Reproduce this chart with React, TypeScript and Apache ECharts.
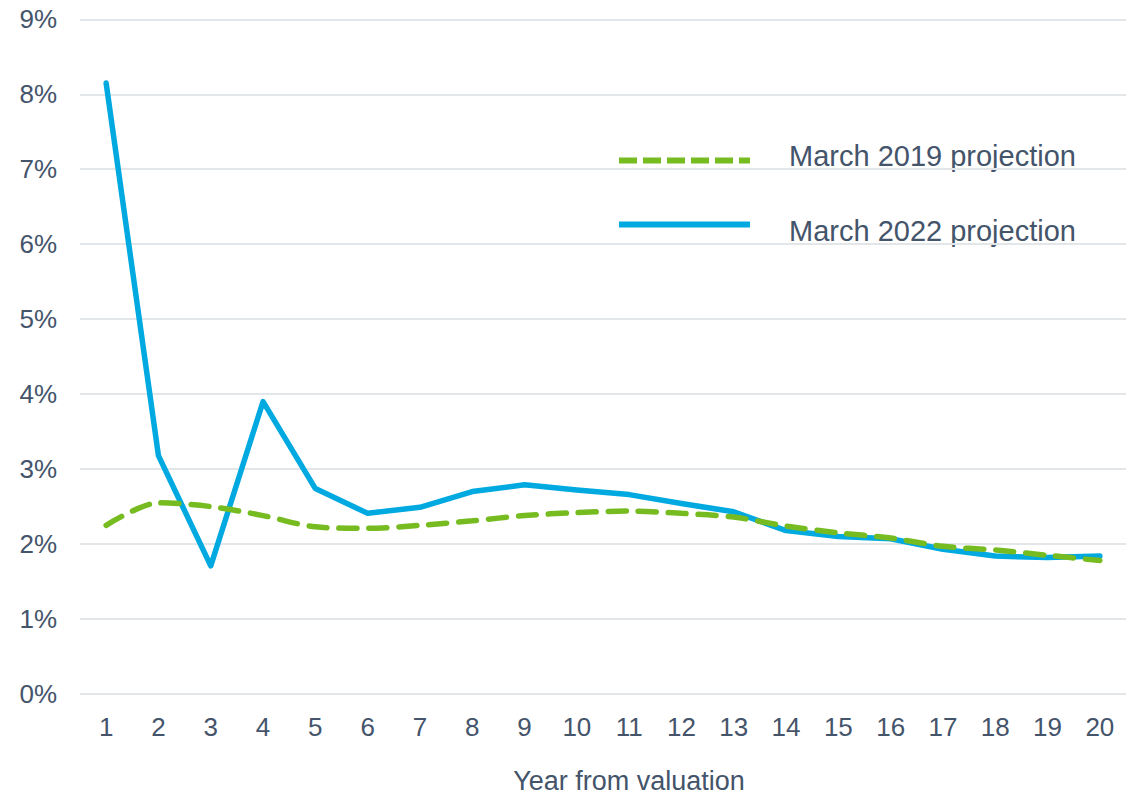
import React, { useEffect, useRef } from "react";
import * as echarts from "echarts";

const years = ["1","2","3","4","5","6","7","8","9","10","11","12","13","14","15","16","17","18","19","20"];
const march2019 = [2.25, 2.55, 2.5, 2.38, 2.23, 2.21, 2.25, 2.31, 2.38, 2.42, 2.44, 2.41, 2.36, 2.24, 2.15, 2.08, 1.97, 1.92, 1.85, 1.78];
const march2022 = [8.15, 3.18, 1.71, 3.9, 2.74, 2.41, 2.49, 2.7, 2.79, 2.72, 2.66, 2.54, 2.43, 2.18, 2.1, 2.07, 1.93, 1.84, 1.82, 1.84];
const seriesNames = ["March 2019 projection", "March 2022 projection"];
const xAxisTitle = "Year from valuation";

const TEXT = "#44546a";
const GREEN = "#76bc21";
const BLUE = "#00a9e0";
const FONT = "Liberation Sans, Arial, sans-serif";

export default function App() {
  const ref = useRef<HTMLDivElement>(null);
  useEffect(() => {
    if (!ref.current) return;
    const chart = echarts.init(ref.current, undefined, { renderer: "svg" });
    chart.setOption({
      animation: false,
      backgroundColor: "#ffffff",
      grid: { left: 80, right: 14, top: 19.3, height: 679 },
      graphic: [
        {
          type: "line",
          shape: { x1: 619, y1: 160.5, x2: 750, y2: 160.5 },
          style: { stroke: GREEN, lineWidth: 6, lineDash: [18, 6] },
        },
        {
          type: "text",
          x: 789,
          y: 156,
          style: { text: seriesNames[0], fill: TEXT, font: "29px " + FONT, verticalAlign: "middle" },
        },
        {
          type: "line",
          shape: { x1: 619, y1: 224.5, x2: 750, y2: 224.5 },
          style: { stroke: BLUE, lineWidth: 6 },
        },
        {
          type: "text",
          x: 789,
          y: 231,
          style: { text: seriesNames[1], fill: TEXT, font: "29px " + FONT, verticalAlign: "middle" },
        },
      ],
      xAxis: {
        type: "category",
        data: years,
        boundaryGap: true,
        axisLine: { show: false },
        axisTick: { show: false },
        axisLabel: { color: TEXT, fontSize: 26, fontFamily: FONT, margin: 20 },
        name: xAxisTitle,
        nameLocation: "middle",
        nameGap: 73,
        nameTextStyle: { color: TEXT, fontSize: 27, fontFamily: FONT, padding: [0, 0, 0, 52] },
      },
      yAxis: {
        type: "value",
        min: 0,
        max: 9,
        interval: 1,
        axisLine: { show: false },
        axisTick: { show: false },
        splitLine: { lineStyle: { color: "#e3e6e9", width: 2 } },
        axisLabel: { color: TEXT, fontSize: 26, fontFamily: FONT, margin: 23, formatter: "{value}%" },
      },
      series: [
        {
          name: seriesNames[0],
          type: "line",
          data: march2019,
          symbol: "none",
          smooth: 0.3,
          z: 3,
          lineStyle: { color: GREEN, width: 5.5, type: [18, 12], cap: "round" },
          itemStyle: { color: GREEN },
        },
        {
          name: seriesNames[1],
          type: "line",
          data: march2022,
          symbol: "none",
          z: 2,
          lineStyle: { color: BLUE, width: 5.5, cap: "round", join: "round" },
          itemStyle: { color: BLUE },
        },
      ],
    });
    return () => chart.dispose();
  }, []);
  return <div ref={ref} style={{ width: 1140, height: 799, position: "absolute", left: 0, top: 0 }} />;
}
